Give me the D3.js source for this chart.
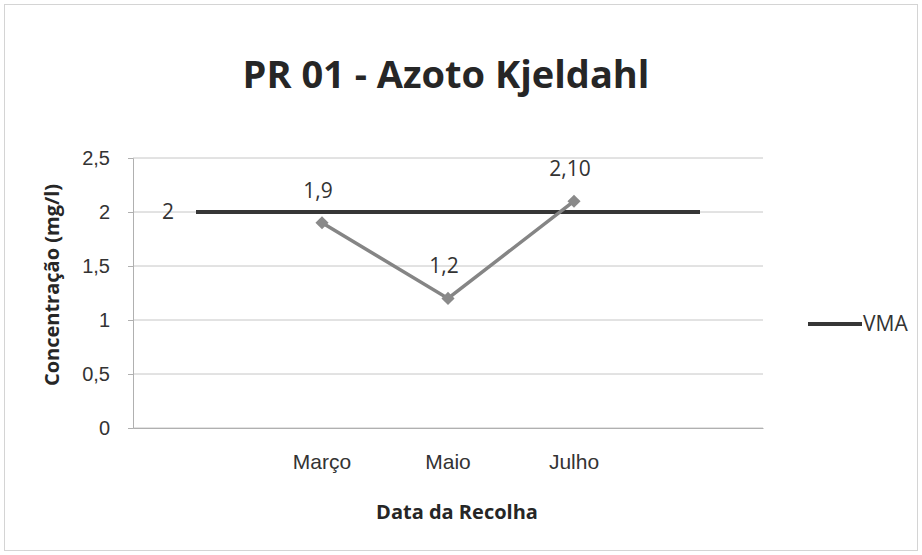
<!DOCTYPE html>
<html>
<head>
<meta charset="utf-8">
<script src="https://cdn.jsdelivr.net/npm/d3@7"></script>
<style>
    body { margin: 0; background: #fff; }
    svg { font-family: "Open Sans", "Noto Sans", sans-serif; }
</style>
</head>
<body>
<svg id="chart" width="922" height="555"></svg>
<script>
    // categories on the x axis (first and last slots are empty in the original)
    var categories = ["", "Março", "Maio", "Julho", ""];
    // PR 01 measured values (null = no sample)
    var azotoValues = [null, 1.9, 1.2, 2.1, null];
    var azotoLabels = [null, "1,9", "1,2", "2,10", null];
    // VMA limit, drawn across all slots
    var vmaValues = [2, 2, 2, 2, 2];
    var yTicks = [0, 0.5, 1, 1.5, 2, 2.5];

    var svg = d3.select("#chart"),
        width = +svg.attr("width"),
        height = +svg.attr("height");

    var plot = {left: 133, right: 763, top: 158, bottom: 428};

    // frame
    svg.append("rect")
        .attr("x", 4.5).attr("y", 4.5)
        .attr("width", width - 9).attr("height", height - 9)
        .attr("fill", "#fff")
        .attr("stroke", "#d4d4d4");

    var x = d3.scaleBand()
        .domain(d3.range(categories.length))
        .range([plot.left, plot.right])
        .padding(0);

    var y = d3.scaleLinear()
        .domain([0, 2.5])
        .range([plot.bottom, plot.top]);

    function cx(i) {
        return x(i) + x.bandwidth() / 2;
    }

    var fmt = function (d) {
        return String(d).replace(".", ",");
    };

    // gridlines
    svg.append("g")
        .selectAll("line")
        .data(yTicks)
        .enter().append("line")
        .attr("x1", plot.left).attr("x2", plot.right)
        .attr("y1", function (d) { return y(d); })
        .attr("y2", function (d) { return y(d); })
        .attr("stroke", "#c6c6c6")
        .attr("stroke-width", 1);

    // y axis
    var yAxis = svg.append("g")
        .attr("transform", "translate(" + plot.left + ",0)")
        .call(d3.axisLeft(y).tickValues(yTicks).tickFormat(fmt).tickSize(5).tickPadding(18));
    yAxis.select(".domain").attr("stroke", "#b0b0b0");
    yAxis.selectAll(".tick line").attr("stroke", "#b0b0b0");
    yAxis.selectAll("text")
        .attr("font-size", 20)
        .attr("fill", "#333");

    // x axis
    var xAxis = svg.append("g")
        .attr("transform", "translate(0," + plot.bottom + ")")
        .call(d3.axisBottom(x).tickFormat(function (i) { return categories[i]; }).tickSize(0).tickPadding(26));
    xAxis.select(".domain").attr("stroke", "#b0b0b0");
    xAxis.selectAll("text")
        .attr("font-size", 21)
        .attr("fill", "#333");

    // VMA line
    var line = d3.line()
        .defined(function (d) { return d != null; })
        .x(function (d, i) { return cx(i); })
        .y(function (d) { return y(d); });

    svg.append("path")
        .datum(vmaValues)
        .attr("d", line)
        .attr("fill", "none")
        .attr("stroke", "#363636")
        .attr("stroke-width", 4);

    svg.append("text")
        .attr("x", cx(0) - 28)
        .attr("y", y(vmaValues[0]))
        .attr("dy", "0.35em")
        .attr("text-anchor", "middle")
        .attr("font-size", 21)
        .attr("fill", "#333")
        .text(fmt(vmaValues[0]));

    // measured series
    var line2 = d3.line()
        .defined(function (d) { return d != null; })
        .x(function (d, i) { return cx(i); })
        .y(function (d) { return y(d); });

    svg.append("path")
        .datum(azotoValues)
        .attr("d", line2)
        .attr("fill", "none")
        .attr("stroke", "#858585")
        .attr("stroke-width", 3.5);

    var pts = azotoValues.map(function (d, i) { return {v: d, i: i, label: azotoLabels[i]}; })
        .filter(function (d) { return d.v != null; });

    svg.append("g")
        .selectAll("path")
        .data(pts)
        .enter().append("path")
        .attr("d", d3.symbol().type(d3.symbolDiamond2).size(110))
        .attr("transform", function (d) { return "translate(" + cx(d.i) + "," + y(d.v) + ")"; })
        .attr("fill", "#8a8a8a");

    svg.append("g")
        .selectAll("text")
        .data(pts)
        .enter().append("text")
        .attr("x", function (d) { return cx(d.i) - 4; })
        .attr("y", function (d) { return y(d.v) - 25; })
        .attr("text-anchor", "middle")
        .attr("font-size", 21)
        .attr("fill", "#333")
        .text(function (d) { return d.label; });

    // titles
    svg.append("text")
        .attr("x", 446).attr("y", 88)
        .attr("text-anchor", "middle")
        .attr("font-size", 38)
        .attr("font-weight", "bold")
        .attr("fill", "#262626")
        .text("PR 01 - Azoto Kjeldahl");

    svg.append("text")
        .attr("x", 457).attr("y", 519)
        .attr("text-anchor", "middle")
        .attr("font-size", 20)
        .attr("font-weight", "bold")
        .attr("fill", "#262626")
        .text("Data da Recolha");

    svg.append("text")
        .attr("transform", "translate(59,285) rotate(-90)")
        .attr("text-anchor", "middle")
        .attr("font-size", 20)
        .attr("font-weight", "bold")
        .attr("fill", "#262626")
        .text("Concentração (mg/l)");

    // legend
    var legend = svg.append("g").attr("transform", "translate(808,324)");
    legend.append("line")
        .attr("x1", 0).attr("x2", 54)
        .attr("stroke", "#363636").attr("stroke-width", 4);
    legend.append("text")
        .attr("x", 55).attr("dy", "0.35em")
        .attr("font-size", 21)
        .attr("fill", "#333")
        .text("VMA");
</script>
</body>
</html>
